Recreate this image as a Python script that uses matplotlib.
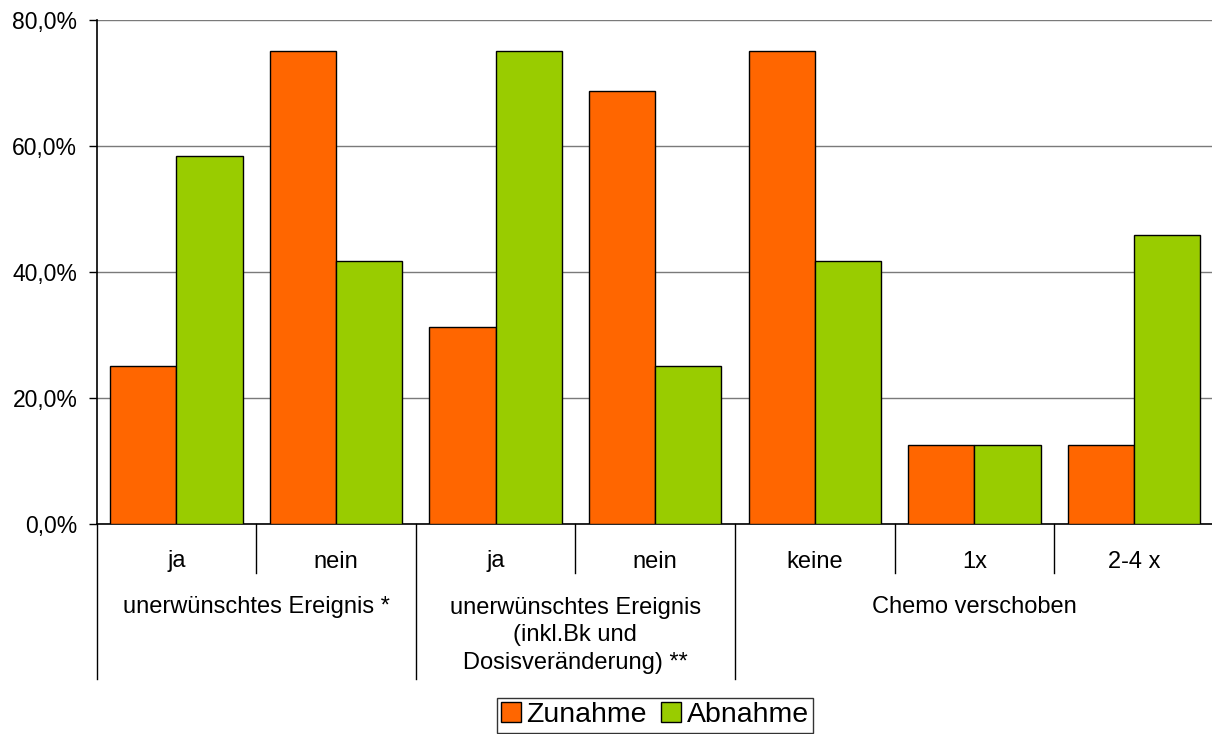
import numpy as np
import matplotlib
matplotlib.use('Agg')
import matplotlib.pyplot as plt
from matplotlib.ticker import FuncFormatter
from matplotlib.patches import Patch

# daten
kategorien = ['ja', 'nein', 'ja', 'nein', 'keine', '1x', '2-4 x']
gruppen = ['unerwünschtes Ereignis *',
           'unerwünschtes Ereignis\n(inkl.Bk und\nDosisveränderung) **',
           'Chemo verschoben']
gruppen_groesse = [2, 2, 3]
zunahme = [25.0, 75.0, 31.25, 68.75, 75.0, 12.5, 12.5]
abnahme = [58.3, 41.7, 75.0, 25.0, 41.7, 12.5, 45.8]

plt.rcParams['font.family'] = ['Liberation Sans', 'DejaVu Sans']

fig = plt.figure(figsize=(12.12, 7.34), dpi=100)
ax = fig.add_axes([96.7/1212, 210.3/734, 1117/1212, 504/734])

x = np.arange(len(kategorien))
b = 0.415
ax.bar(x - b/2, zunahme, b, color='#FF6600', edgecolor='black', linewidth=1, label='Zunahme', zorder=3)
ax.bar(x + b/2, abnahme, b, color='#99CC00', edgecolor='black', linewidth=1, label='Abnahme', zorder=3)

ax.set_xlim(-0.5, len(kategorien) - 0.5)
ax.set_ylim(0, 80)
ax.set_yticks([0, 20, 40, 60, 80])
ax.yaxis.set_major_formatter(FuncFormatter(lambda v, p: ('%.1f%%' % v).replace('.', ',')))
ax.tick_params(axis='y', labelsize=16.5, length=6, width=1, pad=8)
ax.set_xticks([])
ax.grid(axis='y', color='#7a7a7a', linewidth=1, zorder=0)
ax.spines['top'].set_visible(False)
ax.spines['right'].set_visible(False)
ax.spines['left'].set_linewidth(1.2)
ax.spines['bottom'].set_linewidth(1.2)

# mehrstufige kategorienachse
trans = ax.get_xaxis_transform()
for i, k in enumerate(kategorien):
    ax.text(i, -0.075, k, transform=trans, ha='center', va='center', fontsize=17)

grenzen = np.cumsum([0] + gruppen_groesse)
for i in range(1, len(kategorien)):
    if i not in grenzen:
        ax.plot([i - 0.5, i - 0.5], [0, -0.098], transform=trans, color='black', linewidth=1, clip_on=False)
for g in grenzen:
    ax.plot([g - 0.5, g - 0.5], [0, -0.308], transform=trans, color='black', linewidth=1, clip_on=False)

for j, name in enumerate(gruppen):
    mitte = (grenzen[j] + grenzen[j+1] - 1) / 2
    n = name.count('\n')
    ax.text(mitte, -0.166 - n * 0.0278, name, transform=trans, ha='center', va='center',
            fontsize=17, linespacing=1.32)

leg = fig.legend(handles=[Patch(facecolor='#FF6600', edgecolor='black', label='Zunahme'),
                          Patch(facecolor='#99CC00', edgecolor='black', label='Abnahme')],
                 loc='upper center', bbox_to_anchor=(655/1212, 36/734), ncol=2, fontsize=20.5,
                 frameon=True, fancybox=False, edgecolor='black', borderaxespad=0,
                 handlelength=0.7, handleheight=0.7, handletextpad=0.2, columnspacing=0.5,
                 borderpad=0.15)
leg.get_frame().set_linewidth(1)

fig.savefig('out.png', dpi=100)
